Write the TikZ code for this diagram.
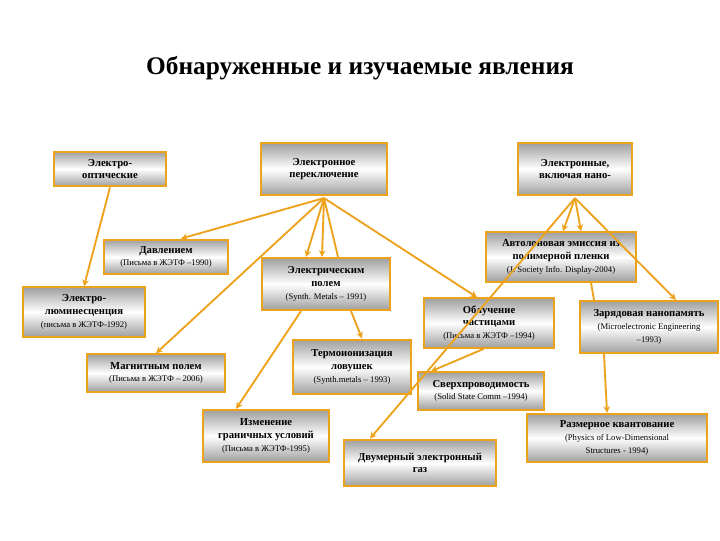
\documentclass[tikz,border=0pt]{standalone}
\usepackage{fontspec}
\setmainfont{Liberation Serif}
\usetikzlibrary{calc,arrows.meta}
\definecolor{org}{HTML}{EDA21C}
\tikzset{
 bx/.style={draw=org,line width=1.6pt,top color=gray!75,bottom color=gray!75,middle color=white,
   align=center,inner sep=1pt,font=\fontsize{8}{9.5}\selectfont\bfseries},
 ar/.style={draw=org,line width=1.4pt,-{Stealth[length=5pt,width=5pt]}},
 ln/.style={draw=org,line width=1.4pt}
}
\newcommand{\ct}{\\\fontsize{6.5}{7.5}\selectfont\mdseries}
\begin{document}
\begin{tikzpicture}[x=0.75pt,y=-0.75pt]
\useasboundingbox (0,0) rectangle (720,540);
\node (title) at (360,68) {\fontsize{19}{22}\selectfont\bfseries Обнаруженные и изучаемые явления};
\node[bx,minimum width=84pt,minimum height=26pt] (A) at (110,169) {Электро-\\оптические};
\node[bx,minimum width=94pt,minimum height=39pt] (B) at (324,169) {Электронное\\переключение};
\node[bx,minimum width=86pt,minimum height=39pt] (C) at (575,169) {Электронные,\\включая нано-};
\node[bx,minimum width=93pt,minimum height=26pt] (D) at (166,257) {Давлением\ct (Письма в ЖЭТФ --1990)};
\node[bx,minimum width=96pt,minimum height=39pt] (E) at (326,284) {Электрическим\\полем\ct (Synth. Metals -- 1991)};
\node[bx,minimum width=112pt,minimum height=37pt] (F) at (561,257) {Автолоновая эмиссия из\\полимерной пленки\ct (J. Society Info. Display-2004)};
\node[bx,minimum width=91pt,minimum height=37pt] (G) at (84,312) {Электро-\\люминесценция\ct (письма в ЖЭТФ-1992)};
\node[bx,minimum width=97pt,minimum height=37pt] (H) at (489,323) {Облучение\\частицами\ct (Письма в ЖЭТФ --1994)};
\node[bx,minimum width=103pt,minimum height=39pt] (I) at (649,327) {Зарядовая нанопамять\ct (Microelectronic Engineering\ct --1993)};
\node[bx,minimum width=103pt,minimum height=28pt] (J) at (156,373) {Магнитным полем\ct (Письма в ЖЭТФ -- 2006)};
\node[bx,minimum width=88pt,minimum height=41pt] (K) at (352,367) {Термоионизация\\ловушек\ct (Synth.metals -- 1993)};
\node[bx,minimum width=95pt,minimum height=28pt] (L) at (481,391) {Сверхпроводимость\ct (Solid State Comm --1994)};
\node[bx,minimum width=95pt,minimum height=39pt] (M) at (266,436) {Изменение\\граничных условий\ct (Письма в ЖЭТФ-1995)};
\node[bx,minimum width=135pt,minimum height=36pt] (N) at (617,438) {Размерное квантование\ct (Physics of Low-Dimensional\ct Structures - 1994)};
\node[bx,minimum width=114pt,minimum height=35pt] (O) at (420,463) {Двумерный электронный\\газ};
\coordinate (bs) at ($(B.south)+(0,2)$);
\coordinate (cs) at ($(C.south)+(0,2)$);
\draw[ar] (A.south) -- (G.north);
\draw[ar] (bs) -- ($(D.north)+(15,0)$);
\draw[ar] (bs) -- (J.north);
\draw[ar] (bs) -- ($(E.north)+(-20,0)$);
\draw[ar] (bs) -- ($(E.north)+(-4,0)$);
\draw[ln] (bs) -- ($(E.north)+(12,0)$);
\draw[ar] (bs) -- ($(H.north)+(-12,0)$);
\draw[ar] ($(E.south)+(-25,0)$) -- ($(M.north)+(-30,0)$);
\draw[ar] ($(E.south)+(25,0)$) -- ($(K.north)+(10,0)$);
\draw[ar] (cs) -- ($(F.north)+(2,0)$);
\draw[ar] (cs) -- ($(F.north)+(20,0)$);
\draw[ar] (cs) -- ($(I.north)+(27,0)$);
\draw[ar] (cs) -- ($(O.north)+(-50,0)$);
\draw[ln] ($(F.south)+(30,0)$) -- ($(I.north)+(-55,0)$);
\draw[ar] ($(H.south)+(-5,0)$) -- ($(L.north)+(-50,0)$);
\draw[ar] ($(I.south)+(-45,0)$) -- ($(N.north)+(-10,0)$);
\end{tikzpicture}
\end{document}
